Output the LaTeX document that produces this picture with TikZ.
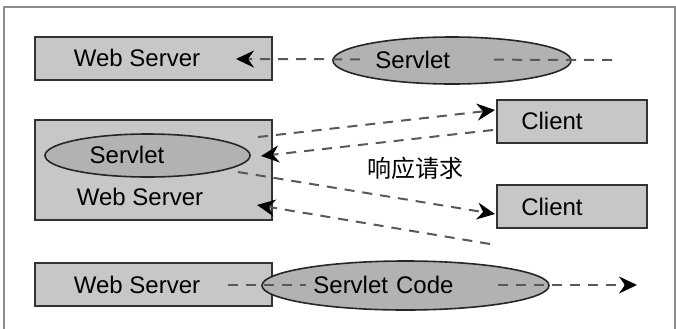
\documentclass[tikz,border=0pt]{standalone}
\usepackage{fontspec}
\setmainfont{Liberation Sans}
\newfontfamily\cjk{Noto Sans CJK SC}
\usetikzlibrary{arrows.meta,shapes.geometric,positioning}

\begin{document}
\begin{tikzpicture}[x=0.5pt,y=-0.5pt,>={Stealth[length=9pt,width=8.5pt,inset=3pt,color=black]},font=\fontsize{12}{14}\selectfont]
	\tikzstyle{srvbox}=[draw=black!80,line width=1pt,fill=black!22,inner sep=0pt,minimum width=118.5pt,minimum height=21.5pt]
	\tikzstyle{blob}=[ellipse,draw=black!85,line width=0.8pt,fill=black!30,inner sep=0pt]
	\tikzstyle{flow}=[draw=black!65,line width=1pt,dash pattern=on 5pt off 4pt]
	\tikzstyle{word}=[inner sep=2pt]
	\tikzstyle{mask}=[fill=black!30,anchor=west,align=left,inner xsep=3.5pt,inner ysep=3pt]

	\useasboundingbox (0,0) rectangle (676,328);
	\draw[black!45,line width=0.8pt] (4,335) -- (4,7) -- (675,7) -- (675,335);

	% top row
	\node[srvbox] (ws1) at (153.5,58.5) {};
	\node[blob,minimum width=119pt,minimum height=23.5pt] (sv1) at (452,60.5) {};
	\coordinate (e1) at (612,60);
	\coordinate (t1) at (236,59);
	\draw[flow,->] (e1) -- (t1);
	\node[word] (ws1txt) at (137,58) {Web Server};
	\node[mask,text width=54pt] (sv1txt) at (368,60) {Servlet};

	% middle: server with servlet and two clients
	\node[srvbox,minimum height=50pt] (ws2) at (153.5,170) {};
	\node[blob,minimum width=102.5pt,minimum height=21.5pt] (sv2) at (147.5,155.5) {};
	\node[word] (sv2txt) at (127,155) {Servlet};
	\node[word] (ws2txt) at (140,197) {Web Server};
	\node[srvbox,minimum width=75pt] (c1) at (572,121.5) {};
	\node[word] (c1txt) at (552,121) {Client};
	\node[srvbox,minimum width=75pt] (c2) at (572,206.5) {};
	\node[word] (c2txt) at (552,207) {Client};

	\coordinate (p1) at (258,137);
	\coordinate (q1) at (495,110);
	\coordinate (p2) at (493,130);
	\coordinate (q2) at (261,156);
	\coordinate (p3) at (238,172);
	\coordinate (q3) at (495,214);
	\coordinate (p4) at (490,244);
	\coordinate (q4) at (257,205);
	\draw[flow,->] (p1) -- (q1);
	\draw[flow,->] (p2) -- (q2);
	\draw[flow,->] (p3) -- (q3);
	\draw[flow,->] (p4) -- (q4);
	\node[word,font=\cjk\fontsize{12}{14}\selectfont] (resp) at (415,168) {响应请求};

	% bottom row
	\node[srvbox] (ws3) at (153.5,284.5) {};
	\node[blob,minimum width=143.5pt,minimum height=24.5pt] (sv3) at (405.5,285.5) {};
	\coordinate (e3) at (228,285);
	\coordinate (t3) at (637,285);
	\draw[flow,->] (e3) -- (t3);
	\node[word] (ws3txt) at (137,285) {Web Server};
	\node[mask,text width=85pt] (sv3txt) at (306,285) {Servlet Code};
\end{tikzpicture}
\end{document}
